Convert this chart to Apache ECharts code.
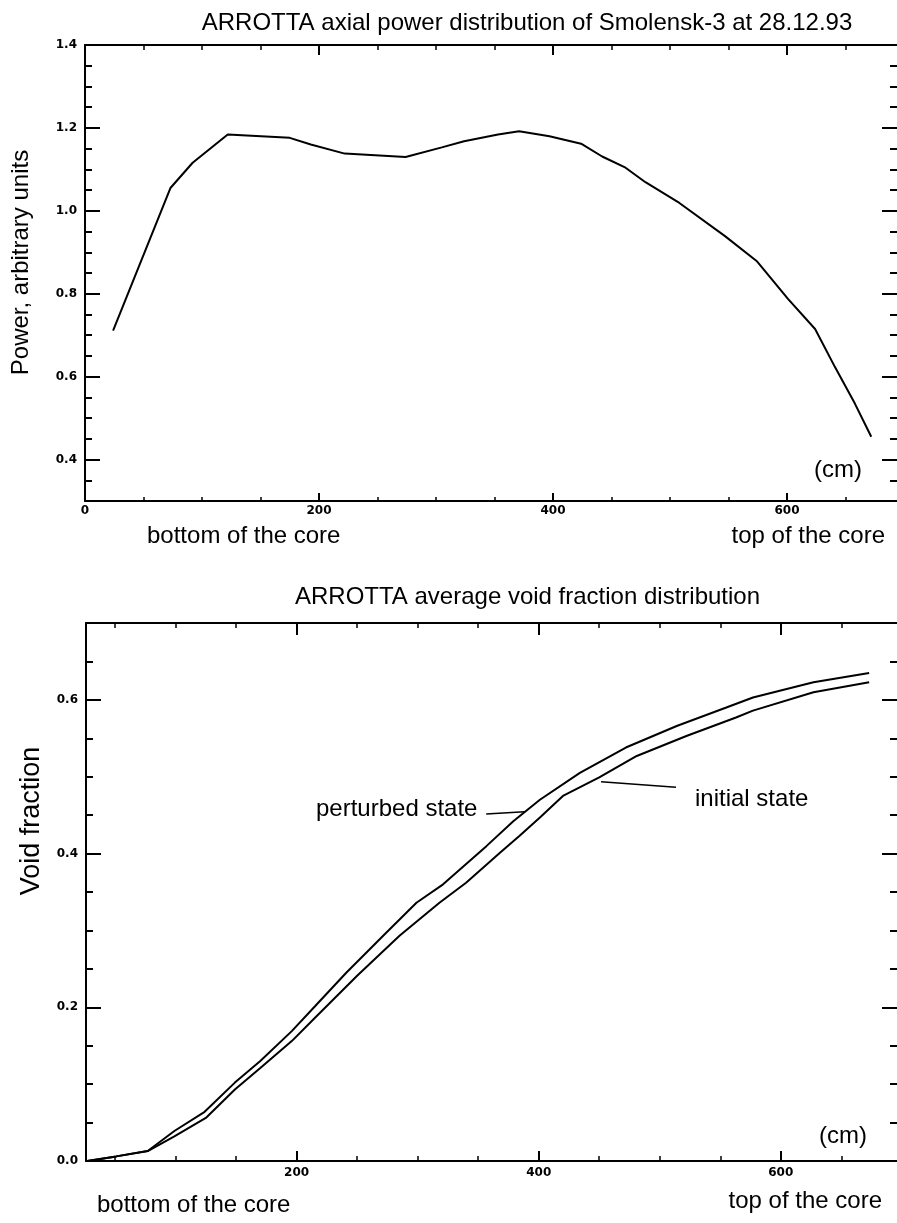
<!DOCTYPE html>
<html>
<head>
<meta charset="utf-8">
<script src="https://cdn.jsdelivr.net/npm/echarts@6.0.0/dist/echarts.min.js"></script>
<style>
  html, body { margin: 0; padding: 0; background: #fff; }
  #chart { width: 897px; height: 1223px; }
</style>
</head>
<body>
<div id="chart"></div>
<script>
// ---------- Data: top chart (axial power distribution) ----------
const powerX = [24, 73, 92, 122, 175, 193, 222, 274, 305, 324, 353, 371, 397, 424, 442, 462, 479, 508, 547, 574, 601, 624, 641, 658, 672];
const powerY = [0.711, 1.055, 1.116, 1.184, 1.176, 1.160, 1.138, 1.130, 1.153, 1.168, 1.184, 1.192, 1.180, 1.162, 1.131, 1.104, 1.069, 1.019, 0.939, 0.879, 0.787, 0.715, 0.623, 0.535, 0.455];

// ---------- Data: bottom chart (void fraction) ----------
const perturbedX = [27, 51, 77, 99, 124, 149, 170, 196, 215, 241, 274, 299, 321, 357, 379, 401, 434, 472, 514, 555, 577, 627, 673];
const perturbedY = [0.000, 0.006, 0.013, 0.039, 0.064, 0.102, 0.130, 0.169, 0.201, 0.245, 0.297, 0.336, 0.360, 0.410, 0.442, 0.470, 0.505, 0.538, 0.566, 0.590, 0.603, 0.623, 0.635];
const initialX = [27, 51, 77, 99, 125, 149, 170, 196, 215, 250, 285, 318, 340, 368, 384, 401, 420, 450, 481, 522, 563, 577, 627, 673];
const initialY = [0.000, 0.006, 0.013, 0.032, 0.056, 0.093, 0.121, 0.156, 0.186, 0.241, 0.293, 0.336, 0.362, 0.401, 0.423, 0.447, 0.475, 0.499, 0.527, 0.553, 0.577, 0.586, 0.610, 0.623];

// ---------- Tick values ----------
const topXLabels = [0, 200, 400, 600];
const topXMajor = [200, 400, 600];
const topXMinor = [50, 100, 150, 250, 300, 350, 450, 500, 550, 650];
const topYMajor = [0.4, 0.6, 0.8, 1.0, 1.2, 1.4];
const topYMinor = [0.35, 0.45, 0.5, 0.55, 0.65, 0.7, 0.75, 0.85, 0.9, 0.95, 1.05, 1.1, 1.15, 1.25, 1.3, 1.35];
const botXMajor = [200, 400, 600];
const botXMinor = [50, 100, 150, 250, 300, 350, 450, 500, 550, 650];
const botYMajor = [0.0, 0.2, 0.4, 0.6];
const botYMinor = [0.05, 0.1, 0.15, 0.25, 0.3, 0.35, 0.45, 0.5, 0.55, 0.65];

// ---------- Annotation leader lines (data coordinates) ----------
const perturbedLeader = [[356.6, 0.4515], [388.2, 0.4545]];
const initialLeader = [[451.5, 0.4935], [513.4, 0.4862]];

const zip = (xs, ys) => xs.map((x, i) => [x, ys[i]]);

const TXT = 'Liberation Sans, Arial, Helvetica, sans-serif';
const TICKFONT = { color: '#000', fontFamily: 'DejaVu Sans', fontWeight: 'bold', fontSize: 12 };

function ax(gridIndex, min, max, position, ticks, tickLen, tickW, showLine, labels, fmt, margin) {
  return {
    type: 'value', gridIndex, min, max, position,
    axisLine: { show: showLine, onZero: false, lineStyle: { color: '#000', width: 2 } },
    axisTick: { show: true, inside: true, length: tickLen, customValues: ticks, lineStyle: { color: '#000', width: tickW } },
    axisLabel: labels ? Object.assign({ show: true, customValues: labels, formatter: fmt, margin: margin }, TICKFONT) : { show: false },
    splitLine: { show: false },
    minorTick: { show: false }
  };
}

const f0 = v => String(Math.round(v));
const f1 = v => v.toFixed(1);

const TOPXMIN = 0, TOPXMAX = 694, TOPYMIN = 0.3, TOPYMAX = 1.4;
const BOTXMIN = 26, BOTXMAX = 696, BOTYMIN = 0, BOTYMAX = 0.7;

const option = {
  animation: false,
  backgroundColor: '#fff',
  grid: [
    { left: 85, top: 45, width: 814, height: 456 },
    { left: 86, top: 623, width: 812, height: 538 }
  ],
  xAxis: [
    ax(0, TOPXMIN, TOPXMAX, 'bottom', topXMajor, 8, 2, true, topXLabels, f0, 4),
    ax(0, TOPXMIN, TOPXMAX, 'bottom', topXMinor, 4, 1.5, false),
    ax(0, TOPXMIN, TOPXMAX, 'top', topXMajor, 10, 2, true),
    ax(0, TOPXMIN, TOPXMAX, 'top', topXMinor, 5, 1.5, false),
    ax(1, BOTXMIN, BOTXMAX, 'bottom', botXMajor, 10, 2, true, botXMajor, f0, 6),
    ax(1, BOTXMIN, BOTXMAX, 'bottom', botXMinor, 5, 1.5, false),
    ax(1, BOTXMIN, BOTXMAX, 'top', botXMajor, 12, 2, true),
    ax(1, BOTXMIN, BOTXMAX, 'top', botXMinor, 5, 1.5, false)
  ],
  yAxis: [
    ax(0, TOPYMIN, TOPYMAX, 'left', topYMajor, 15, 2, true, topYMajor, f1, 8),
    ax(0, TOPYMIN, TOPYMAX, 'left', topYMinor, 7, 2, false),
    ax(0, TOPYMIN, TOPYMAX, 'right', topYMajor, 15, 2, false),
    ax(0, TOPYMIN, TOPYMAX, 'right', topYMinor, 7, 2, false),
    ax(1, BOTYMIN, BOTYMAX, 'left', botYMajor, 15, 2, true, botYMajor, f1, 8),
    ax(1, BOTYMIN, BOTYMAX, 'left', botYMinor, 7, 2, false),
    ax(1, BOTYMIN, BOTYMAX, 'right', botYMajor, 15, 2, false),
    ax(1, BOTYMIN, BOTYMAX, 'right', botYMinor, 7, 2, false)
  ],
  series: [
    {
      name: 'axial power', type: 'line', xAxisIndex: 0, yAxisIndex: 0,
      data: zip(powerX, powerY), symbol: 'none', showSymbol: false,
      lineStyle: { color: '#000', width: 2 }
    },
    {
      name: 'perturbed state', type: 'line', xAxisIndex: 4, yAxisIndex: 4,
      data: zip(perturbedX, perturbedY), symbol: 'none', showSymbol: false,
      lineStyle: { color: '#000', width: 2 },
      markLine: {
        silent: true, symbol: 'none', label: { show: false },
        lineStyle: { color: '#000', width: 1.5, type: 'solid' },
        data: [[{ coord: perturbedLeader[0] }, { coord: perturbedLeader[1] }]]
      }
    },
    {
      name: 'initial state', type: 'line', xAxisIndex: 4, yAxisIndex: 4,
      data: zip(initialX, initialY), symbol: 'none', showSymbol: false,
      lineStyle: { color: '#000', width: 2 },
      markLine: {
        silent: true, symbol: 'none', label: { show: false },
        lineStyle: { color: '#000', width: 1.5, type: 'solid' },
        data: [[{ coord: initialLeader[0] }, { coord: initialLeader[1] }]]
      }
    }
  ],
  graphic: [
    { type: 'text', x: 527, y: 23.5, style: { text: 'ARROTTA axial power distribution of Smolensk-3 at 28.12.93', font: '24px ' + TXT, fill: '#000', textAlign: 'center', textVerticalAlign: 'middle' } },
    { type: 'text', x: 21, y: 262.5, rotation: Math.PI / 2, style: { text: 'Power, arbitrary units', font: '24px ' + TXT, fill: '#000', textAlign: 'center', textVerticalAlign: 'middle' } },
    { type: 'text', x: 862, y: 470, style: { text: '(cm)', font: '24px ' + TXT, fill: '#000', textAlign: 'right', textVerticalAlign: 'middle' } },
    { type: 'text', x: 147, y: 536.5, style: { text: 'bottom of the core', font: '24px ' + TXT, fill: '#000', textAlign: 'left', textVerticalAlign: 'middle' } },
    { type: 'text', x: 885, y: 536, style: { text: 'top of the core', font: '24px ' + TXT, fill: '#000', textAlign: 'right', textVerticalAlign: 'middle' } },

    { type: 'text', x: 527.5, y: 597.5, style: { text: 'ARROTTA average void fraction distribution', font: '24px ' + TXT, fill: '#000', textAlign: 'center', textVerticalAlign: 'middle' } },
    { type: 'text', x: 32, y: 821, rotation: Math.PI / 2, style: { text: 'Void fraction', font: '27px ' + TXT, fill: '#000', textAlign: 'center', textVerticalAlign: 'middle' } },
    { type: 'text', x: 316, y: 809.5, style: { text: 'perturbed state', font: '24px ' + TXT, fill: '#000', textAlign: 'left', textVerticalAlign: 'middle' } },
    { type: 'text', x: 695, y: 799.5, style: { text: 'initial state', font: '24px ' + TXT, fill: '#000', textAlign: 'left', textVerticalAlign: 'middle' } },
    { type: 'text', x: 867, y: 1136, style: { text: '(cm)', font: '24px ' + TXT, fill: '#000', textAlign: 'right', textVerticalAlign: 'middle' } },
    { type: 'text', x: 97, y: 1205, style: { text: 'bottom of the core', font: '24px ' + TXT, fill: '#000', textAlign: 'left', textVerticalAlign: 'middle' } },
    { type: 'text', x: 882, y: 1201, style: { text: 'top of the core', font: '24px ' + TXT, fill: '#000', textAlign: 'right', textVerticalAlign: 'middle' } }
  ]
};

const chart = echarts.init(document.getElementById('chart'), null, { renderer: 'canvas' });
chart.setOption(option);
</script>
</body>
</html>
